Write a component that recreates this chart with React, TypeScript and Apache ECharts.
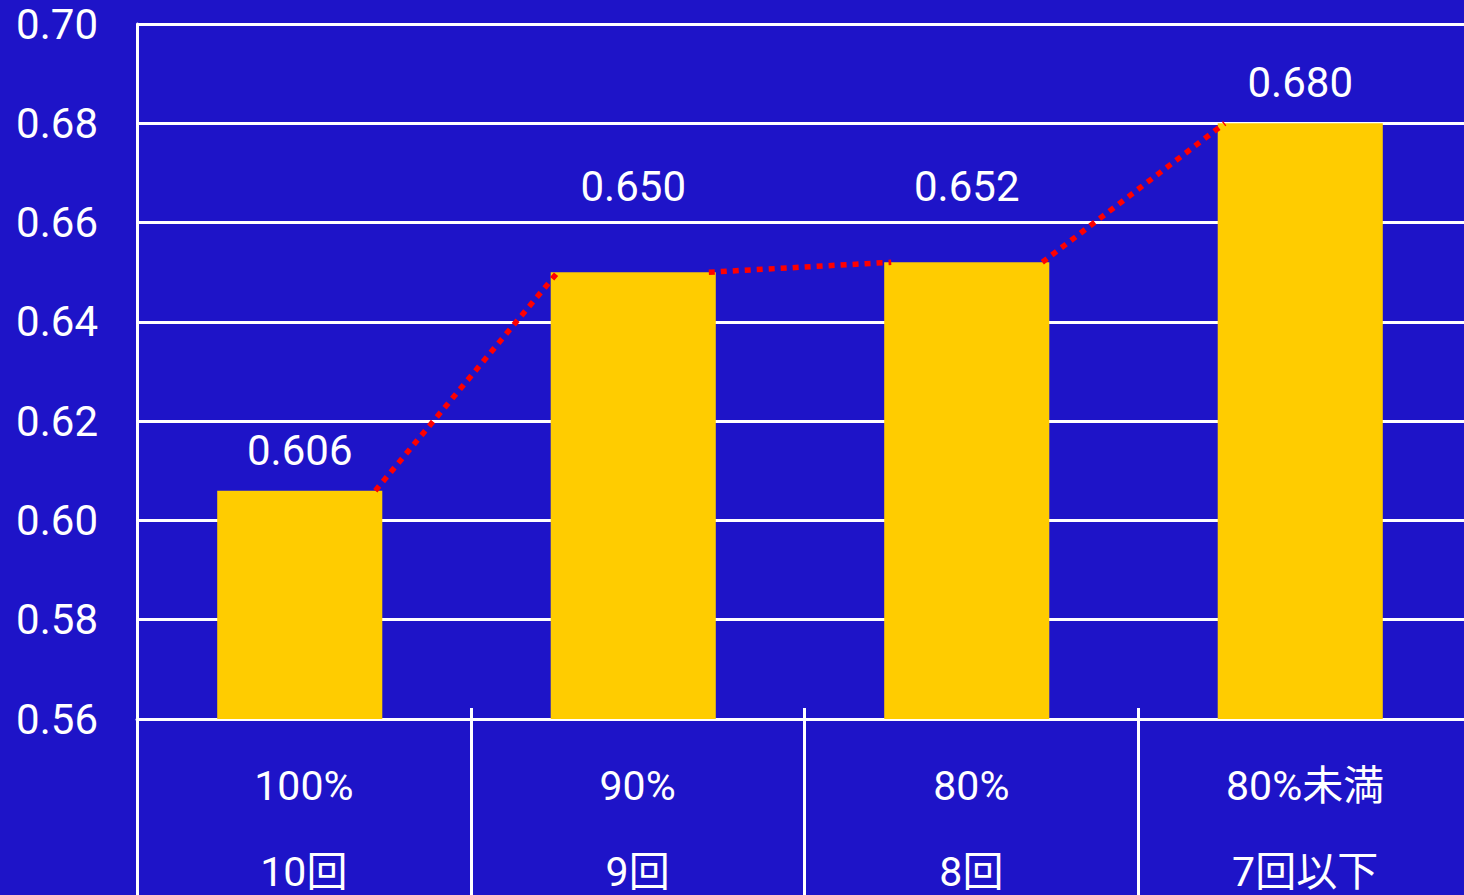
import React, { useEffect, useRef } from "react";
import * as echarts from "echarts";

const pctLabels = ["100%", "90%", "80%", "80%未満"];
const countLabels = ["10回", "9回", "8回", "7回以下"];
const values = [0.606, 0.65, 0.652, 0.68];
const labelText = ["0.606", "0.650", "0.652", "0.680"];
const yMin = 0.56;
const yMax = 0.7;
const yStep = 0.02;

const BG = "#1E14C8";
const NUM = 'Roboto, "Noto Sans CJK JP", sans-serif';
const SANS = 'Roboto, "Noto Sans CJK JP", sans-serif';
const labelDistances = [19, 65, 55, 20];
const BAR_FRAC = 0.495;

export default function App() {
  const ref = useRef<HTMLDivElement>(null);
  useEffect(() => {
    if (!ref.current) return;
    const chart = echarts.init(ref.current, undefined, { renderer: "svg" });
    const categories = pctLabels.map((p, i) => p + "\n" + countLabels[i]);
    const segData = values.slice(0, -1).map((v, i) => [i, v, values[i + 1]]);

    chart.setOption({
      animation: false,
      backgroundColor: BG,
      grid: [
        { left: 133, right: -3, top: 24, bottom: 176, outerBoundsMode: "none", containLabel: false },
        { left: 137, right: -8, top: 24, bottom: 176, outerBoundsMode: "none", containLabel: false },
      ],
      xAxis: [
        { type: "category", gridIndex: 0, data: categories, show: false },
        {
          type: "category",
          gridIndex: 1,
          data: categories,
          axisLine: { show: true, lineStyle: { color: "#fff", width: 3 } },
          axisTick: { show: true, inside: true, length: 11, lineStyle: { color: "#fff", width: 3 } },
          axisLabel: {
            color: "#fff",
            fontSize: 41,
            fontFamily: SANS,
            lineHeight: 86,
            margin: 24,
          },
          splitLine: { show: false },
        },
        {
          type: "category",
          gridIndex: 1,
          data: categories,
          position: "bottom",
          axisLine: { show: false },
          axisTick: { show: true, inside: false, length: 200, lineStyle: { color: "#fff", width: 3 } },
          axisLabel: { show: false },
        },
      ],
      yAxis: [
        { type: "value", gridIndex: 0, min: yMin, max: yMax, interval: yStep, show: false },
        {
          type: "value",
          gridIndex: 1,
          min: yMin,
          max: yMax,
          interval: yStep,
          axisLine: { show: true, lineStyle: { color: "#fff", width: 3 } },
          axisTick: { show: true, inside: true, length: 13, lineStyle: { color: "#fff", width: 3 } },
          axisLabel: {
            color: "#fff",
            fontSize: 42,
            fontFamily: NUM,
            margin: 39,
            formatter: (v: number) => v.toFixed(2),
          },
          splitLine: { show: true, lineStyle: { color: "#fff", width: 3 } },
        },
      ],
      series: [
        {
          type: "bar",
          xAxisIndex: 0,
          yAxisIndex: 0,
          barWidth: BAR_FRAC * 100 + "%",
          itemStyle: { color: "#FFCC00" },
          data: values.map((v, i) => ({
            value: v,
            label: {
              show: true,
              position: "top",
              distance: labelDistances[i],
              formatter: labelText[i],
              color: "#fff",
              fontSize: 42,
              lineHeight: 42,
              fontFamily: NUM,
            },
          })),
        },
        {
          type: "custom",
          xAxisIndex: 0,
          yAxisIndex: 0,
          z: 5,
          data: segData,
          renderItem: (params: any, api: any) => {
            const i = api.value(0);
            const p1 = api.coord([i, api.value(1)]);
            const p2 = api.coord([i + 1, api.value(2)]);
            const band = api.size([1, 0])[0];
            const half = (band * BAR_FRAC) / 2;
            const inset = 7;
            return {
              type: "line",
              shape: {
                x1: p1[0] + half - inset,
                y1: p1[1],
                x2: p2[0] - half + inset,
                y2: p2[1],
              },
              style: { stroke: "#FF0000", lineWidth: 5.5, lineDash: [6, 6], fill: null },
            };
          },
        },
      ],
    });
    return () => chart.dispose();
  }, []);
  return (
    <div
      ref={ref}
      style={{ position: "fixed", left: 0, top: 0, width: 1464, height: 895 }}
    />
  );
}
